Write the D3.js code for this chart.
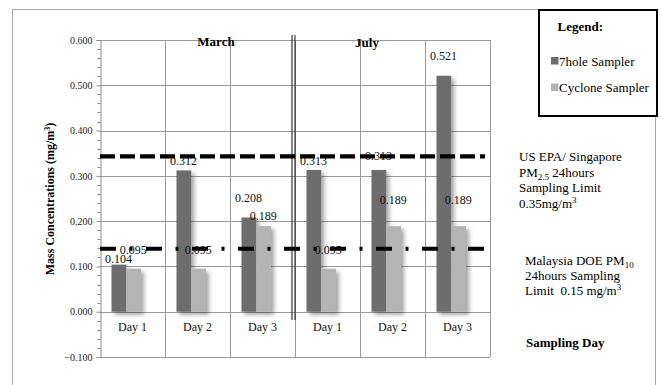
<!DOCTYPE html>
<html>
<head>
<meta charset="utf-8">
<script src="https://cdn.jsdelivr.net/npm/d3@7"></script>
<style>
  html, body { margin: 0; padding: 0; background: #fff; }
  svg { display: block; font-family: "Liberation Serif", "Times New Roman", serif; }
  text { white-space: pre; }
</style>
</head>
<body>
<div id="chart"></div>
<script>
// ---- data ----
const months = ["March", "July"];
const days = ["Day 1", "Day 2", "Day 3"];
const series = ["7hole Sampler", "Cyclone Sampler"];
const sevenHole = [0.104, 0.312, 0.208, 0.313, 0.313, 0.521];
const cyclone = [0.095, 0.095, 0.189, 0.095, 0.189, 0.189];
const yTicks = [-0.1, 0.0, 0.1, 0.2, 0.3, 0.4, 0.5, 0.6];
const limitEPA = 0.343;
const limitDOE = 0.139;

// ---- layout / style ----
const W = 662, H = 385;
const plot = { left: 100, right: 490, top: 40, bottom: 357 };
const colors = { "7hole Sampler": "#6d6d6d", "Cyclone Sampler": "#b4b4b4" };
// vertical lift of each data label above its bar top (px), mimicking the source layout
const liftSeven = [6, 9, 20, 8.5, 13.5, 20];
const liftCyclone = [19, 19, 10, 19, 26, 26];

const categories = [];
months.forEach(m => days.forEach(d => categories.push(m + "|" + d)));

const svg = d3.select("#chart").append("svg").attr("width", W).attr("height", H);

const defs = svg.append("defs");
const f = defs.append("filter").attr("id", "shadow").attr("x", "-50%").attr("y", "-20%").attr("width", "200%").attr("height", "140%");
f.append("feDropShadow").attr("dx", 3).attr("dy", 3).attr("stdDeviation", 2.2).attr("flood-color", "#000").attr("flood-opacity", 0.35);

// outer frame
svg.append("rect").attr("x", 12.5).attr("y", 9.5).attr("width", 643).attr("height", 420)
  .attr("fill", "none").attr("stroke", "#a8a8a8").attr("stroke-width", 1);

const x = d3.scaleBand().domain(categories).range([plot.left, plot.right]).padding(0);
const xs = d3.scaleBand().domain(series).range([11.5, 41]).padding(0);
const y = d3.scaleLinear().domain([-0.1, 0.6]).range([plot.bottom, plot.top]);

// horizontal gridlines
svg.append("g").selectAll("line").data(yTicks).join("line")
  .attr("x1", plot.left).attr("x2", plot.right)
  .attr("y1", d => Math.round(y(d)) + 0.5).attr("y2", d => Math.round(y(d)) + 0.5)
  .attr("stroke", "#9a9a9a").attr("stroke-width", 1);

// vertical gridlines (category boundaries)
const bounds = categories.map(c => x(c)).concat([plot.right]);
svg.append("g").selectAll("line").data(bounds.slice(1)).join("line")
  .attr("x1", d => Math.round(d) + 0.5).attr("x2", d => Math.round(d) + 0.5)
  .attr("y1", plot.top).attr("y2", plot.bottom)
  .attr("stroke", "#9a9a9a").attr("stroke-width", 1);

// y axis
const yAxis = d3.axisLeft(y).tickValues(yTicks).tickFormat(d3.format(".3f")).tickSize(4).tickPadding(4);
const ga = svg.append("g").attr("transform", `translate(${plot.left + 0.5},0)`).call(yAxis);
ga.attr("font-family", "Liberation Serif");
ga.select(".domain").attr("stroke", "#8a8a8a");
ga.selectAll(".tick line").attr("stroke", "#8a8a8a");
ga.selectAll("text").attr("font-family", "Liberation Serif").attr("font-size", 10).attr("fill", "#222");
// minor ticks
const minor = d3.range(-0.1, 0.6001, 0.02).filter(v => Math.abs(Math.round(v * 10) - v * 10) > 0.01);
ga.append("g").selectAll("line").data(minor).join("line")
  .attr("x1", -3).attr("x2", 0)
  .attr("y1", d => Math.round(y(d)) + 0.5).attr("y2", d => Math.round(y(d)) + 0.5)
  .attr("stroke", "#8a8a8a");

// bars
const rows = categories.map((c, i) => ({ c, i, vals: [sevenHole[i], cyclone[i]] }));
const barG = svg.append("g").attr("filter", "url(#shadow)");
rows.forEach(r => {
  series.forEach((s, j) => {
    const v = r.vals[j];
    barG.append("rect")
      .attr("x", x(r.c) + xs(s))
      .attr("width", xs.bandwidth())
      .attr("y", y(Math.max(0, v)))
      .attr("height", Math.abs(y(v) - y(0)))
      .attr("fill", colors[s]);
  });
});

// limit lines
svg.append("line").attr("x1", plot.left).attr("x2", 485)
  .attr("y1", y(limitEPA)).attr("y2", y(limitEPA))
  .attr("stroke", "#000").attr("stroke-width", 4.2).attr("stroke-dasharray", "15,5");
svg.append("line").attr("x1", plot.left).attr("x2", 485)
  .attr("y1", y(limitDOE)).attr("y2", y(limitDOE))
  .attr("stroke", "#000").attr("stroke-width", 4).attr("stroke-dasharray", "16,13.5,3,13.5");

// data labels
const lblG = svg.append("g").attr("font-size", 12).attr("fill", "#111").attr("text-anchor", "middle");
rows.forEach(r => {
  series.forEach((s, j) => {
    const v = r.vals[j];
    const lift = j === 0 ? liftSeven[r.i] : liftCyclone[r.i];
    lblG.append("text")
      .attr("x", x(r.c) + xs(s) + xs.bandwidth() / 2 - 0.5)
      .attr("y", y(v) - lift + 4)
      .text(d3.format(".3f")(v));
  });
});

// month separator (double line)
const sepX = x(categories[3]);
[-3, 0].forEach(dx => {
  svg.append("line").attr("x1", sepX + dx).attr("x2", sepX + dx).attr("y1", 35).attr("y2", 320)
    .attr("stroke", "#111").attr("stroke-width", 1);
});

// month labels
svg.append("text").attr("x", 216).attr("y", 46).attr("text-anchor", "middle")
  .attr("font-size", 13).attr("font-weight", "bold").text(months[0]);
svg.append("text").attr("x", 367).attr("y", 47).attr("text-anchor", "middle")
  .attr("font-size", 13).attr("font-weight", "bold").text(months[1]);

// x tick labels
svg.append("g").selectAll("text").data(categories).join("text")
  .attr("x", d => x(d) + x.bandwidth() / 2)
  .attr("y", 331)
  .attr("text-anchor", "middle").attr("font-size", 12).attr("fill", "#111")
  .text(d => d.split("|")[1]);

// y title
const yt = svg.append("text").attr("transform", "translate(54,199) rotate(-90)")
  .attr("text-anchor", "middle").attr("font-size", 12).attr("font-weight", "bold");
yt.append("tspan").text("Mass Concentrations (mg/m");
yt.append("tspan").attr("dy", -4).attr("font-size", 8).text("3");
yt.append("tspan").attr("dy", 4).text(")");

// legend
svg.append("rect").attr("x", 539).attr("y", 10).attr("width", 118).attr("height", 106)
  .attr("fill", "#fff").attr("stroke", "#000").attr("stroke-width", 2);
svg.append("text").attr("x", 557.5).attr("y", 31).attr("font-size", 13).attr("font-weight", "bold").text("Legend:");
series.forEach((s, i) => {
  const cy = 61 + i * 26.5;
  svg.append("rect").attr("x", 551).attr("y", cy - 4).attr("width", 7.5).attr("height", 7.5).attr("fill", colors[s]);
  svg.append("text").attr("x", 559).attr("y", cy + 4.5).attr("font-size", 13).text(s);
});

// annotations
function lines(x0, ys, parts, size, bold) {
  ys.forEach((yy, k) => {
    const t = svg.append("text").attr("x", x0).attr("y", yy).attr("font-size", size)
      .attr("font-weight", bold ? "bold" : null);
    parts[k].forEach(p => {
      const ts = t.append("tspan").text(p.t);
      if (p.sub) ts.attr("font-size", 9).attr("dy", 3);
      if (p.sup) ts.attr("font-size", 9).attr("dy", -5);
      if (p.back) ts.attr("dy", p.back);
    });
  });
}
lines(519, [161, 176.5, 192, 207.5], [
  [{ t: "US EPA/ Singapore" }],
  [{ t: "PM" }, { t: "2.5", sub: true }, { t: " 24hours", back: -3 }],
  [{ t: "Sampling Limit" }],
  [{ t: "0.35mg/m" }, { t: "3", sup: true }]
], 13);
lines(525, [264.5, 279.5, 294.5], [
  [{ t: "Malaysia DOE PM" }, { t: "10", sub: true }],
  [{ t: "24hours Sampling" }],
  [{ t: "Limit  0.15 mg/m" }, { t: "3", sup: true }]
], 13);
svg.append("text").attr("x", 526).attr("y", 347).attr("font-size", 13).attr("font-weight", "bold").text("Sampling Day");
</script>
</body>
</html>
